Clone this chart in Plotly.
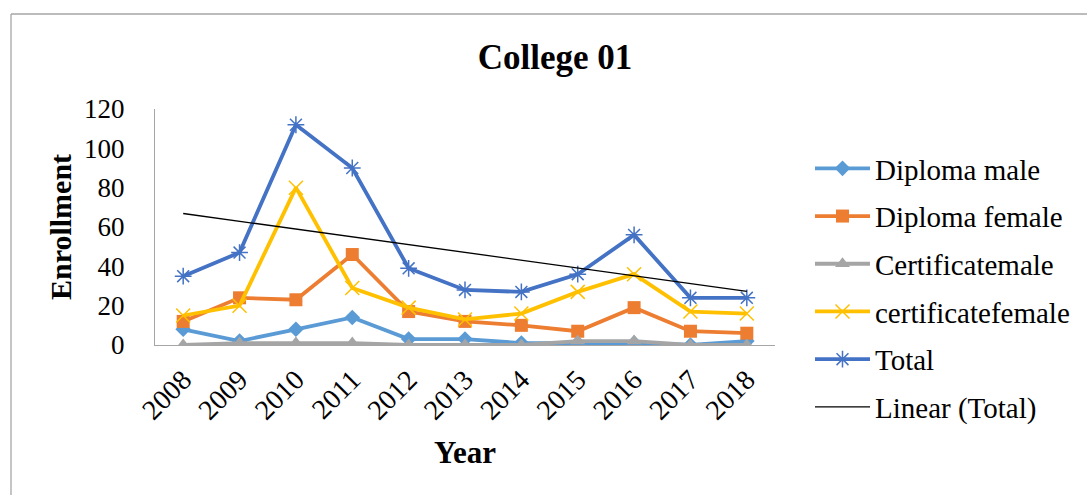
import plotly.graph_objects as go
import numpy as np

years = ["2008", "2009", "2010", "2011", "2012", "2013", "2014", "2015", "2016", "2017", "2018"]
diploma_male = [8, 2, 8, 14, 3, 3, 1, 1, 1, 0, 2]
diploma_female = [12, 24, 23, 46, 17, 12, 10, 7, 19, 7, 6]
certificate_male = [0, 1, 1, 1, 0, 0, 0, 2, 2, 0, 0]
certificate_female = [15, 20, 80, 29, 19, 13, 16, 27, 36, 17, 16]
total = [35, 47, 112, 90, 39, 28, 27, 36, 56, 24, 24]
y_ticks = [0, 20, 40, 60, 80, 100, 120]

FONT = "Liberation Serif, Times New Roman, serif"

fig = go.Figure()

series = [
    ("Diploma male", diploma_male, "#5B9BD5", "diamond", 12),
    ("Diploma female", diploma_female, "#ED7D31", "square", 13),
    ("Certificatemale", certificate_male, "#A5A5A5", "triangle-up", 13),
    ("certificatefemale", certificate_female, "#FFC000", "x-thin", 14),
    ("Total", total, "#4472C4", "asterisk", 14),
]

for i, (name, vals, color, sym, size) in enumerate(series):
    fig.add_trace(go.Scatter(
        x=years, y=vals, name=name, mode="lines+markers",
        line=dict(color=color, width=3.8),
        marker=dict(symbol=sym, size=size, color=color,
                    line=dict(color=color, width=1.5 if "thin" in sym or sym == "asterisk" else 0)),
        legendgroup=f"g{i}",
    ))

# Linear trendline of Total
xi = np.arange(len(total))
slope, intercept = np.polyfit(xi, total, 1)
trend = slope * xi + intercept
fig.add_trace(go.Scatter(
    x=years, y=trend, name="Linear (Total)", mode="lines",
    line=dict(color="black", width=1.3), legendgroup="g5",
))

# outer chart border (top and left visible)
L, R, T, B = 155, 775, 109, 345
W, H = 1087, 495
def px(x):
    return (x - L) / (R - L)
def py(y):
    return (B - y) / (B - T)
fig.add_shape(type="line", xref="paper", yref="paper",
              x0=px(11), x1=px(1100), y0=py(14), y1=py(14),
              line=dict(color="#A6A6A6", width=1.3))
fig.add_shape(type="line", xref="paper", yref="paper",
              x0=px(11), x1=px(11), y0=py(14), y1=py(500),
              line=dict(color="#A6A6A6", width=1.3))

fig.update_layout(
    width=W, height=H,
    margin=dict(l=L, r=W - R, t=T, b=H - B),
    paper_bgcolor="white", plot_bgcolor="white",
    font=dict(family=FONT, color="black", size=27),
    title=dict(text="<b>College 01</b>", x=px(555), xref="paper", xanchor="center",
               y=1 - 57 / H, yanchor="middle", font=dict(size=35, family=FONT, color="black")),
    showlegend=True,
    legend=dict(x=px(810), xanchor="left", y=py(143), yanchor="top",
                font=dict(size=29, family=FONT), tracegroupgap=7,
                itemwidth=55, maxheight=450, bgcolor="rgba(0,0,0,0)"),
    xaxis=dict(type="category", range=[-0.5, 10.5], tickangle=-45,
               showline=True, linecolor="#A6A6A6", linewidth=1.3,
               showgrid=False, ticks="", tickfont=dict(size=28), ticklabelstandoff=6,
               title=dict(text="<b>Year</b>", font=dict(size=31), standoff=16)),
    yaxis=dict(range=[0, 120], tickvals=y_ticks, showline=True, linecolor="#A6A6A6",
               linewidth=1.3, showgrid=False, ticks="", zeroline=False,
               tickfont=dict(size=27), ticklabelstandoff=24,
               title=dict(text="<b>Enrollment</b>", font=dict(size=30), standoff=3)),
)

fig.write_html("out.html")
